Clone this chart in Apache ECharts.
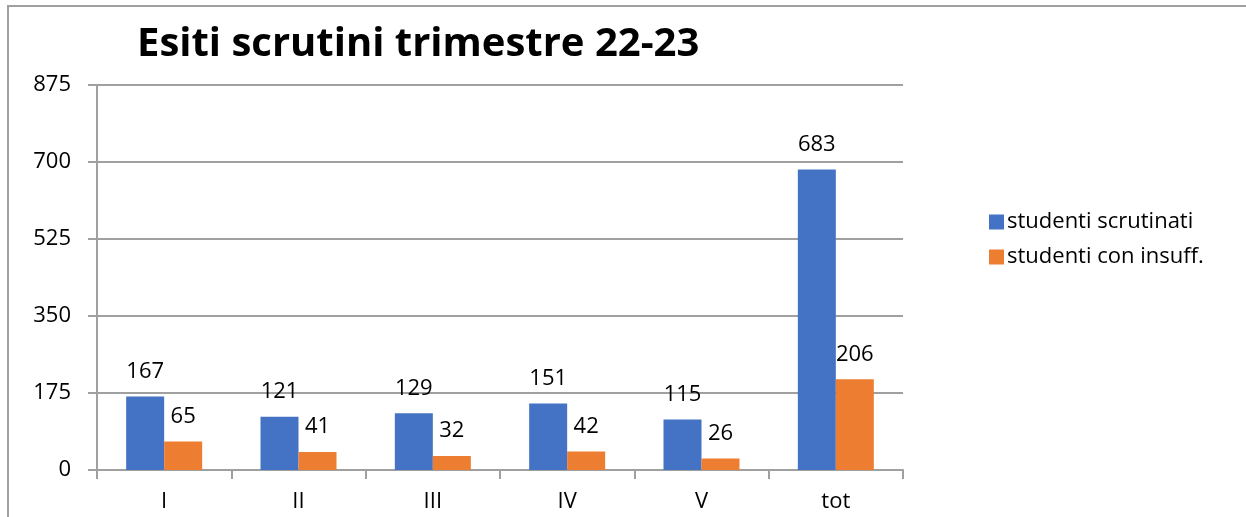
<!DOCTYPE html>
<html><head><meta charset="utf-8">
<script src="https://cdn.jsdelivr.net/npm/echarts@6/dist/echarts.min.js"></script>
<style>html,body{margin:0;padding:0;background:#fff}#c{width:1246px;height:517px}</style>
</head><body><div id="c"></div>
<script>
const categories = ['I','II','III','IV','V','tot'];
const scrutinati = [167,121,129,151,115,683];
const insuff = [65,41,32,42,26,206];
const seriesNames = ['studenti scrutinati','studenti con insuff.'];
const titleText = 'Esiti scrutini trimestre 22-23';
const FONT = 'Open Sans';
const chart = echarts.init(document.getElementById('c'));
chart.setOption({
  animation:false,
  textStyle:{fontFamily:FONT},
  title:{text:titleText,left:132,top:20,textStyle:{fontFamily:FONT,fontSize:40,fontWeight:'bold',color:'#000'}},
  graphic:[{type:'rect',shape:{x:8,y:6,width:1300,height:600},style:{fill:'none',stroke:'#a0a0a0',lineWidth:2},silent:true,z:-1}],
  legend:{orient:'vertical',left:984,top:206,itemWidth:15,itemHeight:15,itemGap:13,icon:'rect',
    textStyle:{fontFamily:FONT,fontSize:22,lineHeight:20,color:'#000',padding:[0,0,0,-2]},data:seriesNames},
  grid:{left:97,right:343,top:85,bottom:47},
  xAxis:{type:'category',data:categories,
    axisLine:{lineStyle:{color:'#a0a0a0',width:2}},
    axisTick:{show:true,length:9,lineStyle:{color:'#a0a0a0',width:2}},
    axisLabel:{fontFamily:FONT,fontSize:22,color:'#000',margin:21}},
  yAxis:{type:'value',min:0,max:875,interval:175,
    axisLine:{show:true,lineStyle:{color:'#a0a0a0',width:2}},
    axisTick:{show:true,length:9,lineStyle:{color:'#a0a0a0',width:2}},
    splitLine:{lineStyle:{color:'#a0a0a0',width:2}},
    axisLabel:{fontFamily:FONT,fontSize:22,color:'#000',margin:26}},
  series:[
    {name:seriesNames[0],type:'bar',data:scrutinati,barWidth:38,barGap:'0%',itemStyle:{color:'#4472C4'},
     label:{show:true,position:'top',distance:14,fontFamily:FONT,fontSize:22,color:'#000'}},
    {name:seriesNames[1],type:'bar',data:insuff,barWidth:38,barGap:'0%',itemStyle:{color:'#ED7D31'},
     label:{show:true,position:'top',distance:14,fontFamily:FONT,fontSize:22,color:'#000'}}
  ]
});
</script></body></html>
